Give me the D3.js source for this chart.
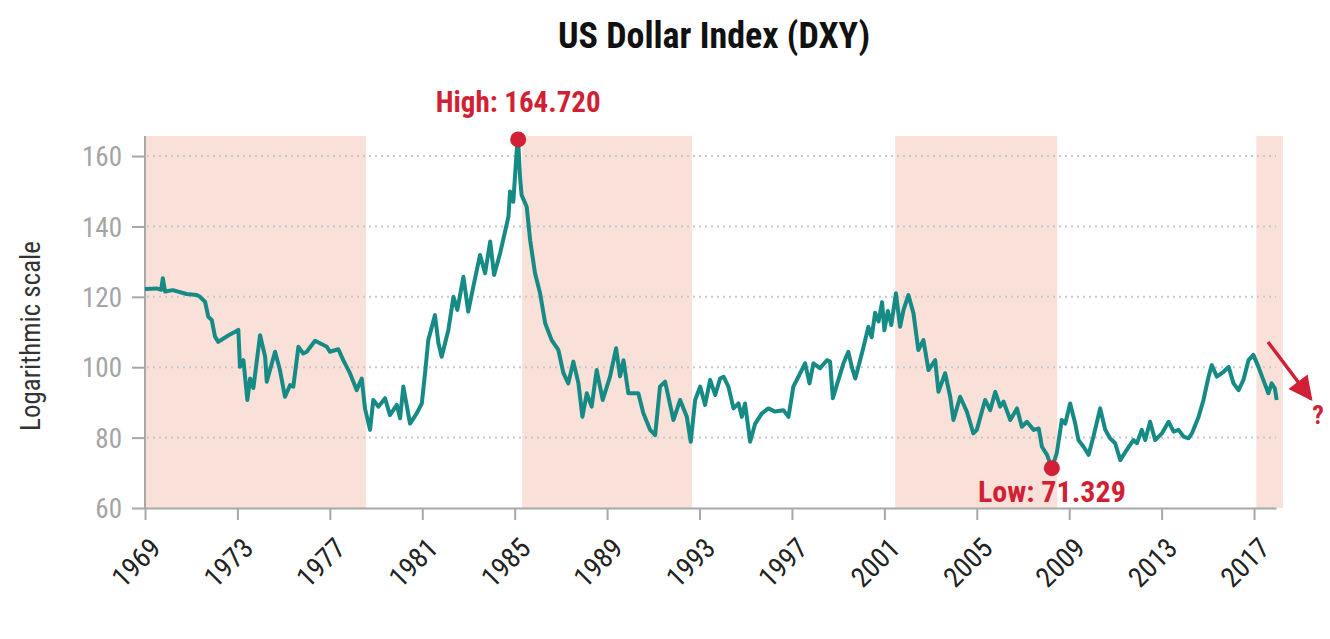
<!DOCTYPE html>
<html>
<head>
<meta charset="utf-8">
<script src="https://cdn.jsdelivr.net/npm/d3@7"></script>
<style>
  body { margin: 0; background: #fff; }
  svg text { font-family: "Liberation Sans Narrow", "Roboto Condensed", "DejaVu Sans Condensed", sans-serif; }
</style>
</head>
<body>
<div id="chart"></div>
<script>
// DXY readings (year, index)
const years = [1969.0,1969.5,1969.7,1969.77,1969.87,1970.2,1970.8,1971.24,1971.38,1971.6,1971.74,1971.89,1972.03,1972.17,1972.6,
  1973.04,1973.11,1973.26,1973.43,1973.55,1973.69,1973.98,1974.2,1974.27,1974.63,1974.84,1975.06,1975.28,1975.42,1975.64,1975.85,
  1976.0,1976.36,1976.87,1977.0,1977.37,1977.58,1977.87,1978.16,1978.38,1978.52,1978.74,1978.88,1979.1,1979.39,1979.6,1979.9,
  1980.04,1980.18,1980.47,1980.76,1980.98,1981.12,1981.26,1981.55,1981.7,1981.84,1982.13,1982.35,1982.52,1982.78,1982.99,
  1983.21,1983.5,1983.72,1983.94,1984.11,1984.37,1984.73,1984.8,1984.94,1985.09,1985.15,1985.23,1985.3,1985.52,1985.67,1985.88,
  1986.1,1986.32,1986.6,1986.89,1987.11,1987.32,1987.54,1987.76,1987.93,1988.12,1988.33,1988.55,1988.81,1989.13,1989.39,1989.56,
  1989.71,1989.92,1990.35,1990.57,1990.86,1991.08,1991.29,1991.51,1991.87,1992.16,1992.45,1992.62,1992.81,1993.03,1993.24,
  1993.46,1993.68,1993.89,1994.04,1994.25,1994.47,1994.69,1994.83,1994.97,1995.19,1995.41,1995.7,1995.98,1996.27,1996.63,
  1996.85,1997.06,1997.28,1997.57,1997.76,1997.93,1998.22,1998.51,1998.65,1998.77,1999.01,1999.23,1999.44,1999.59,1999.74,
  1999.95,2000.1,2000.31,2000.45,2000.6,2000.75,2000.9,2001.0,2001.15,2001.3,2001.5,2001.68,2001.83,2002.04,2002.26,2002.47,
  2002.69,2002.91,2003.2,2003.34,2003.63,2003.85,2003.99,2004.28,2004.57,2004.85,2005.0,2005.36,2005.58,2005.8,2006.01,2006.16,
  2006.45,2006.74,2006.95,2007.17,2007.46,2007.68,2007.82,2008.04,2008.25,2008.46,2008.68,2008.83,2009.04,2009.26,2009.4,
  2009.62,2009.84,2010.05,2010.34,2010.56,2010.77,2010.99,2011.21,2011.49,2011.78,2011.93,2012.14,2012.29,2012.5,2012.72,
  2013.01,2013.3,2013.52,2013.73,2013.95,2014.16,2014.31,2014.6,2014.81,2015.03,2015.17,2015.39,2015.68,2015.9,2016.11,
  2016.33,2016.54,2016.76,2016.97,2017.19,2017.4,2017.62,2017.76,2017.9,2017.98];
const values = [122.2,122.4,122.0,125.3,121.5,121.9,120.8,120.5,120.0,118.6,114.3,113.4,108.7,107.2,109.0,
  110.6,100.1,102.0,90.7,96.8,94.1,109.1,103.0,95.9,104.4,99.2,91.6,94.9,94.5,105.8,103.9,
  104.4,107.5,105.8,104.4,105.1,102.0,98.3,93.5,96.8,88.3,82.2,90.7,88.8,91.2,86.4,89.3,
  85.5,94.5,84.0,86.9,89.7,98.3,107.7,114.8,106.8,103.0,110.6,120.0,116.3,125.7,115.8,
  122.9,131.9,126.7,135.7,126.2,132.4,142.8,149.9,147.0,161.7,164.72,154.1,148.9,145.6,136.1,126.7,
  121.0,112.5,107.7,104.9,98.3,95.4,101.6,95.4,85.9,92.6,88.8,99.2,90.7,97.4,105.4,97.4,
  102.0,92.6,92.6,86.9,82.2,80.7,94.5,95.9,85.0,90.7,85.9,78.8,90.7,94.5,89.3,
  96.4,92.1,96.8,97.3,94.5,88.3,89.7,85.9,89.7,78.8,84.0,86.9,88.3,87.4,87.8,
  85.9,94.5,97.3,101.1,95.4,101.1,99.7,102.0,101.6,91.2,96.4,101.1,104.4,100.1,96.8,
  102.0,105.8,111.5,108.5,115.5,113.0,118.5,110.5,116.0,112.0,121.0,111.5,116.3,120.5,115.3,104.9,
  107.7,99.2,102.0,93.0,98.3,91.6,85.0,91.6,87.4,81.2,82.2,90.7,87.8,93.0,88.8,90.2,
  85.0,88.3,83.1,84.5,82.2,82.6,77.4,75.1,71.329,75.5,85.0,84.0,89.7,84.0,79.3,
  77.4,75.1,80.3,88.3,82.2,79.8,78.4,73.6,76.5,79.3,78.4,82.2,79.3,84.5,79.3,
  81.2,84.5,81.7,82.2,80.3,79.8,81.2,85.9,90.7,97.3,100.6,97.3,98.7,100.1,95.4,
  93.5,96.4,102.0,103.5,100.1,96.4,92.6,95.4,94.0,90.7];

// shaded periods [start, end]
const shadeStart = [1969.0, 1985.32, 2001.47, 2017.1];
const shadeEnd = [1978.57, 1992.68, 2008.48, 2018.25];

const yTicks = [60, 80, 100, 120, 140, 160];
const xTicks = [1969, 1973, 1977, 1981, 1985, 1989, 1993, 1997, 2001, 2005, 2009, 2013, 2017];

const high = {year: 1985.15, value: 164.72, label: "High: 164.720"};
const low = {year: 2008.25, value: 71.329, label: "Low: 71.329"};

const width = 1330, height = 639;
const red = "#d11f35", teal = "#168a84";

const svg = d3.select("#chart").append("svg")
    .attr("width", width)
    .attr("height", height);

const x = d3.scaleLinear().domain([1969, 2017.95]).range([145, 1276]);
const y = d3.scaleLinear().domain([60, 165.7]).range([508, 136]);

svg.append("text")
    .attr("x", 714).attr("y", 48)
    .attr("text-anchor", "middle")
    .style("font-size", "36px").style("font-weight", "bold").style("fill", "#111")
    .text("US Dollar Index (DXY)");

// shaded bands
svg.selectAll(".band")
    .data(shadeStart)
    .enter().append("rect")
    .attr("class", "band")
    .attr("x", d => x(d))
    .attr("y", y(165.7))
    .attr("width", (d, i) => x(shadeEnd[i]) - x(d))
    .attr("height", y(60) - y(165.7))
    .style("fill", "#f9e1da");

// dotted gridlines
svg.selectAll(".grid")
    .data(yTicks.slice(1))
    .enter().append("line")
    .attr("class", "grid")
    .attr("x1", x(1969) + 2).attr("x2", x(2017.95))
    .attr("y1", d => y(d)).attr("y2", d => y(d))
    .style("stroke", "#c8c8c8")
    .style("stroke-width", 2)
    .style("stroke-dasharray", "2,4");

const yAxis = svg.append("g")
    .attr("transform", `translate(${x(1969)},0)`)
    .call(d3.axisLeft(y).tickValues(yTicks).tickSize(13).tickPadding(10));
const xAxis = svg.append("g")
    .attr("transform", `translate(0,${y(60)})`)
    .call(d3.axisBottom(x).tickValues(xTicks).tickFormat(d3.format("d")).tickSize(12).tickSizeOuter(0));

[yAxis, xAxis].forEach(g => {
    g.selectAll(".domain, line").style("stroke", "#a8a8a8").style("stroke-width", 2);
});
yAxis.select(".domain").attr("d", `M0,${y(165.7)}V${y(60)}`);
yAxis.selectAll("text").style("font-size", "27px").style("fill", "#a4a4a4").attr("dy", "0.36em");
xAxis.selectAll("text")
    .style("font-size", "28px").style("fill", "#222")
    .attr("text-anchor", "end")
    .attr("dy", "0")
    .attr("x", 0).attr("y", 0)
    .attr("transform", "translate(17,42) rotate(-45)");

svg.append("text")
    .attr("transform", `translate(40,336) rotate(-90)`)
    .attr("text-anchor", "middle")
    .style("font-size", "27px").style("fill", "#333")
    .text("Logarithmic scale");

const line = d3.line()
    .x((d, i) => x(years[i]))
    .y(d => y(d));

svg.append("path")
    .datum(values)
    .attr("d", line)
    .style("fill", "none")
    .style("stroke", teal)
    .style("stroke-width", 4)
    .style("stroke-linejoin", "round");

// high / low markers
[high, low].forEach(p => {
    svg.append("circle")
        .attr("cx", x(p.year)).attr("cy", y(p.value))
        .attr("r", 8)
        .style("fill", red);
});
svg.append("text")
    .attr("x", x(high.year)).attr("y", y(high.value) - 27)
    .attr("text-anchor", "middle")
    .style("font-size", "29px").style("font-weight", "bold").style("fill", red)
    .text(high.label);
svg.append("text")
    .attr("x", x(low.year)).attr("y", y(low.value) + 34)
    .attr("text-anchor", "middle")
    .style("font-size", "30px").style("font-weight", "bold").style("fill", red)
    .text(low.label);

// arrow to the question mark
svg.append("defs").append("marker")
    .attr("id", "head")
    .attr("viewBox", "0 0 10 10")
    .attr("refX", 9).attr("refY", 5)
    .attr("markerWidth", 30).attr("markerHeight", 24)
    .attr("markerUnits", "userSpaceOnUse")
    .attr("orient", "auto")
    .append("path")
    .attr("d", "M0,0L10,5L0,10Z")
    .style("fill", red);
svg.append("line")
    .attr("x1", 1268).attr("y1", 342)
    .attr("x2", 1311).attr("y2", 399)
    .style("stroke", red)
    .style("stroke-width", 3.5)
    .attr("marker-end", "url(#head)");
svg.append("text")
    .attr("x", 1318).attr("y", 424)
    .attr("text-anchor", "middle")
    .style("font-size", "26px").style("font-weight", "bold").style("fill", red)
    .text("?");
</script>
</body>
</html>
